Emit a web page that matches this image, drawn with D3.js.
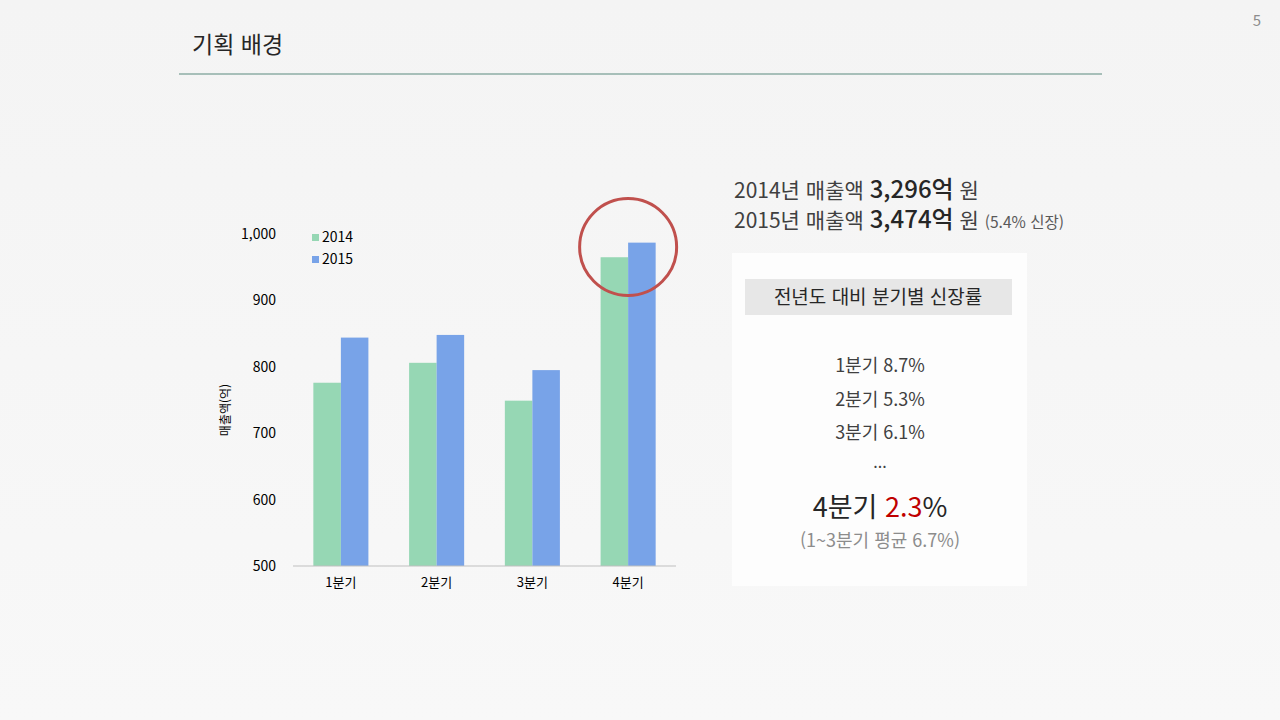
<!DOCTYPE html>
<html lang="ko">
<head>
<meta charset="UTF-8" />
<title>기획 배경</title>
<script src="https://d3js.org/d3.v7.min.js"></script>
<style>
    html, body { margin: 0; padding: 0; }
    body { width: 1280px; height: 720px; overflow: hidden; background: #f5f5f5; }
    svg text { font-family: "Noto Sans CJK KR", "Noto Sans", sans-serif; }
</style>
</head>
<body>
<script>
// data
var quarters = ["1분기", "2분기", "3분기", "4분기"];
var years = ["2014", "2015"];
var sales2014 = [776, 806, 749, 965];
var sales2015 = [844, 848, 795, 987];
var yTicks = [500, 600, 700, 800, 900, 1000];
var growthLines = ["1분기 8.7%", "2분기 5.3%", "3분기 6.1%"];

var w = 1280, h = 720;

var svg = d3.select("body").append("svg")
    .attr("width", w)
    .attr("height", h);

// background
var grad = svg.append("defs").append("linearGradient")
    .attr("id", "bg").attr("x1", 0).attr("y1", 0).attr("x2", 0).attr("y2", 1);
grad.append("stop").attr("offset", "0%").attr("stop-color", "#f4f4f4");
grad.append("stop").attr("offset", "100%").attr("stop-color", "#f8f8f8");
svg.append("rect").attr("width", w).attr("height", h).attr("fill", "url(#bg)");

// title + rule
svg.append("text")
    .attr("x", 192).attr("y", 53)
    .attr("font-size", 23).attr("fill", "#262626")
    .text("기획 배경");
svg.append("line")
    .attr("x1", 179).attr("x2", 1102).attr("y1", 74).attr("y2", 74)
    .attr("stroke", "#5b8a7e").attr("stroke-width", 1.2);
svg.append("text")
    .attr("x", 1261).attr("y", 26).attr("text-anchor", "end")
    .attr("font-size", 15).attr("fill", "#8c8c8c")
    .text("5");

// chart area
var plotLeft = 293, plotRight = 676, plotTop = 234, plotBottom = 566;

var x0 = d3.scaleBand().domain(quarters).range([plotLeft, plotRight]).padding(0);
var x1 = d3.scaleBand().domain(years).range([0, x0.bandwidth() * 0.575]).padding(0);
var y = d3.scaleLinear().domain([500, 1000]).range([plotBottom, plotTop]);

var color = d3.scaleOrdinal().domain(years).range(["#96d7b4", "#78a3e8"]);

var rows = quarters.map(function (q, i) {
    return { q: q, values: [{ year: "2014", v: sales2014[i] }, { year: "2015", v: sales2015[i] }] };
});

var groups = svg.selectAll(".grp")
    .data(rows).enter().append("g")
    .attr("class", "grp")
    .attr("transform", function (d) {
        return "translate(" + (x0(d.q) + (x0.bandwidth() - x1.range()[1]) / 2) + ",0)";
    });

groups.selectAll("rect")
    .data(function (d) { return d.values; })
    .enter().append("rect")
    .attr("x", function (d) { return x1(d.year); })
    .attr("width", x1.bandwidth())
    .attr("y", function (d) { return y(d.v); })
    .attr("height", function (d) { return plotBottom - y(d.v); })
    .attr("fill", function (d) { return color(d.year); });

// y axis (labels only)
var yAxis = svg.append("g")
    .attr("transform", "translate(" + (plotLeft - 14) + ",0)")
    .call(d3.axisLeft(y).tickValues(yTicks).tickSize(0).tickFormat(d3.format(",")));
yAxis.select(".domain").remove();
yAxis.selectAll("text")
    .attr("font-size", 14).attr("fill", "#000")
    .style("font-family", "'Noto Sans CJK KR', sans-serif");

// x axis
var xAxis = svg.append("g")
    .attr("transform", "translate(0," + plotBottom + ")")
    .call(d3.axisBottom(x0).tickSize(0).tickPadding(12));
xAxis.select(".domain").attr("stroke", "#bfbfbf").attr("stroke-width", 1)
    .attr("d", "M" + plotLeft + ",0H" + plotRight);
xAxis.selectAll("text")
    .attr("font-size", 13).attr("fill", "#000")
    .style("font-family", "'Noto Sans CJK KR', sans-serif");

// y axis title
svg.append("text")
    .attr("transform", "translate(230,410) rotate(-90)")
    .attr("text-anchor", "middle")
    .attr("font-size", 12).attr("fill", "#000")
    .text("매출액(억)");

// legend
var legend = svg.selectAll(".leg")
    .data(years).enter().append("g")
    .attr("class", "leg")
    .attr("transform", function (d, i) { return "translate(312," + (233 + i * 22) + ")"; });
legend.append("rect")
    .attr("width", 7).attr("height", 7).attr("y", 1)
    .attr("fill", function (d) { return color(d); });
legend.append("text")
    .attr("x", 10).attr("y", 8.5)
    .attr("font-size", 14).attr("fill", "#000")
    .text(function (d) { return d; });

// highlight circle on Q4
svg.append("circle")
    .attr("cx", x0("4분기") + x0.bandwidth() / 2)
    .attr("cy", 247)
    .attr("r", 48.5)
    .attr("fill", "none")
    .attr("stroke", "#c0504d")
    .attr("stroke-width", 3);

// summary text
var s1 = svg.append("text").attr("x", 734).attr("y", 198).attr("fill", "#404040").attr("font-size", 21);
s1.append("tspan").text("2014년 매출액 ");
s1.append("tspan").attr("font-size", 24).attr("font-weight", 500).attr("fill", "#262626").text("3,296억");
s1.append("tspan").text(" 원");

var s2 = svg.append("text").attr("x", 734).attr("y", 228).attr("fill", "#404040").attr("font-size", 21);
s2.append("tspan").text("2015년 매출액 ");
s2.append("tspan").attr("font-size", 24).attr("font-weight", 500).attr("fill", "#262626").text("3,474억");
s2.append("tspan").text(" 원 ");
s2.append("tspan").attr("font-size", 15.5).attr("fill", "#595959").text("(5.4% 신장)");

// growth panel
svg.append("rect")
    .attr("x", 732).attr("y", 253).attr("width", 295).attr("height", 333)
    .attr("fill", "#fdfdfd");
svg.append("rect")
    .attr("x", 745).attr("y", 279).attr("width", 267).attr("height", 36)
    .attr("fill", "#e7e7e7");
svg.append("text")
    .attr("x", 878).attr("y", 304).attr("text-anchor", "middle")
    .attr("font-size", 19).attr("fill", "#262626")
    .text("전년도 대비 분기별 신장률");

var cx = 880;
svg.selectAll(".gl")
    .data(growthLines).enter().append("text")
    .attr("class", "gl")
    .attr("x", cx)
    .attr("y", function (d, i) { return 372 + i * 33.5; })
    .attr("text-anchor", "middle")
    .attr("font-size", 18).attr("fill", "#404040")
    .text(function (d) { return d; });

svg.append("text")
    .attr("x", cx).attr("y", 468).attr("text-anchor", "middle")
    .attr("font-size", 16).attr("fill", "#404040")
    .text("...");

var q4 = svg.append("text")
    .attr("x", cx).attr("y", 517).attr("text-anchor", "middle")
    .attr("font-size", 27).attr("fill", "#262626");
q4.append("tspan").text("4분기 ");
q4.append("tspan").attr("fill", "#c00000").text("2.3");
q4.append("tspan").text("%");

svg.append("text")
    .attr("x", cx).attr("y", 547).attr("text-anchor", "middle")
    .attr("font-size", 18).attr("fill", "#8c8c8c")
    .text("(1~3분기 평균 6.7%)");
</script>
</body>
</html>
